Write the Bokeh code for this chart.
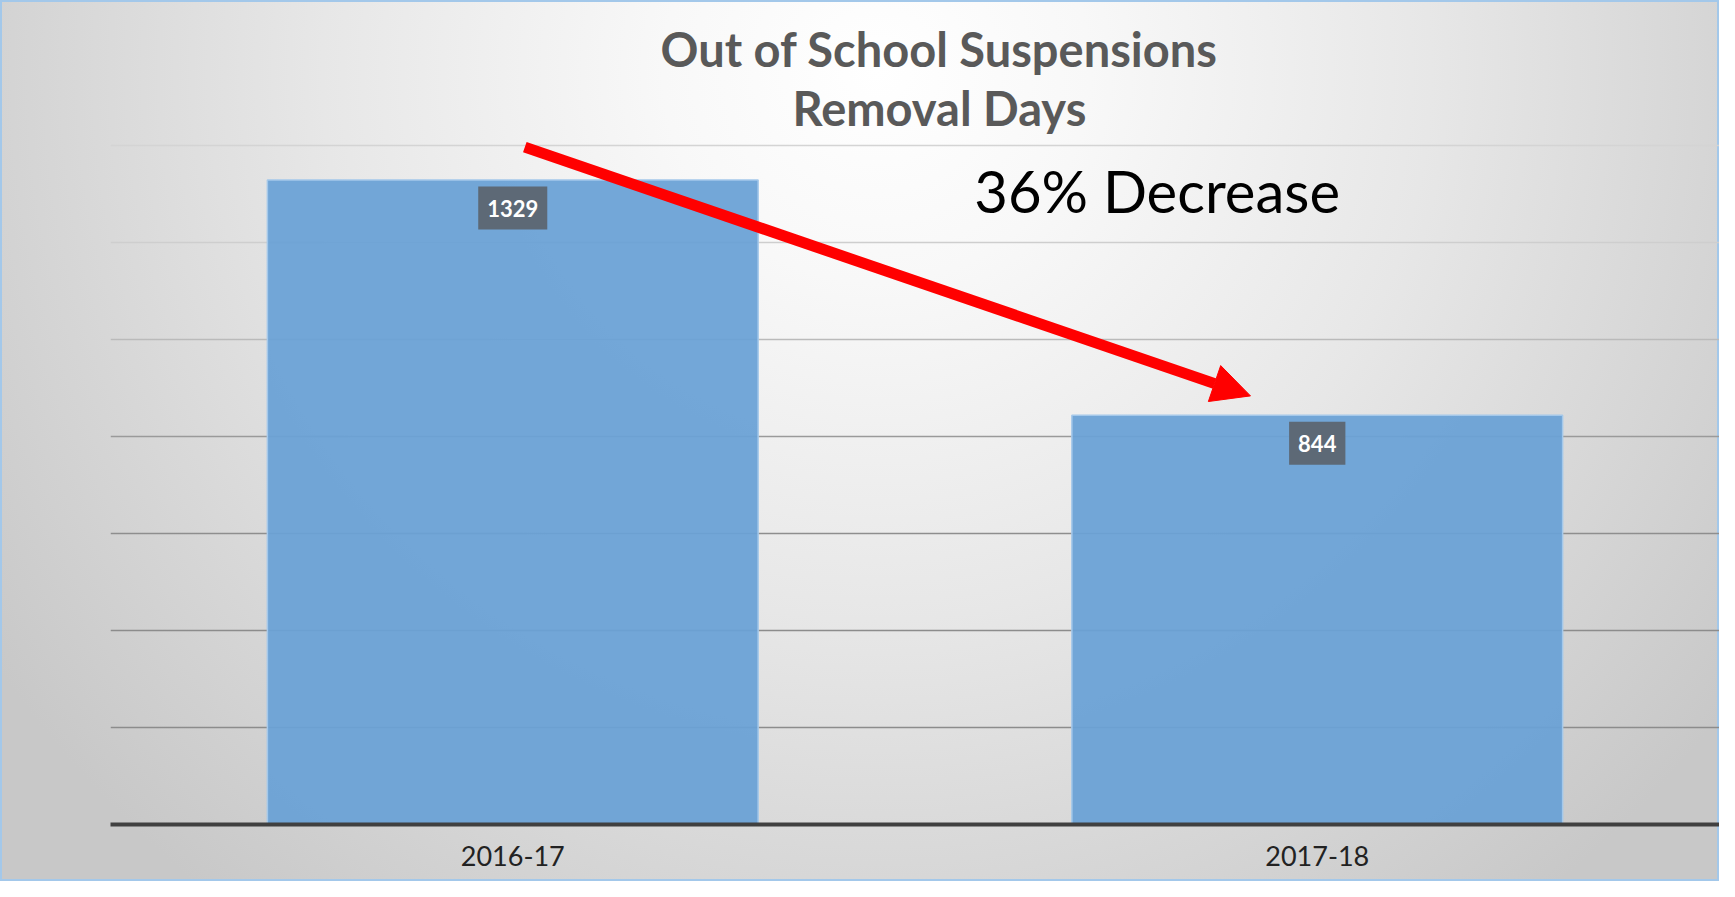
from bokeh.plotting import figure
from bokeh.models import (FactorRange, Range1d, Title, Label, Arrow, NormalHead,
                          Grid, FixedTicker, ColumnDataSource)
from bokeh.core.properties import value
from bokeh.embed import file_html
from bokeh.resources import INLINE

# ---- data ----
categories = ["2016-17", "2017-18"]
removal_days = [1329, 844]
value_labels = ["1329", "844"]
grid_values = [200, 400, 600, 800, 1000, 1200, 1400]
title_line1 = "Out of School Suspensions"
title_line2 = "Removal Days"
annotation_text = "36% Decrease"

FONT = "Lato"

src = ColumnDataSource(dict(cat=categories, days=removal_days, lab=value_labels))

p = figure(x_range=FactorRange(*categories), y_range=Range1d(0, 1421),
           width=1719, height=881, output_backend="svg", toolbar_location=None,
           title=None, min_border_left=110, min_border_right=0,
           min_border_top=135, min_border_bottom=57)

p.styles = {
    "background": "radial-gradient(ellipse 62% 120% at 51% 8%, #ffffff 0%, #f8f8f8 20%, "
                  "#e7e7e7 52%, #d6d6d6 78%, #c8c8c8 100%)",
    "box-shadow": "inset 0 0 0 2px #a3c8ea",
}
p.background_fill_color = None
p.border_fill_color = None
p.outline_line_color = None

# grids: lighter near top, darker lower down
p.xgrid.visible = False
p.ygrid.visible = False
grid_colors = ["#8c8c8c", "#8c8c8c", "#8e8e8e", "#9a9a9a", "#bababa", "#cecece", "#d4d4d4"]
for gv, gc in zip(grid_values, grid_colors):
    p.add_layout(Grid(dimension=1, ticker=FixedTicker(ticks=[gv]),
                      grid_line_color=gc, grid_line_width=1.3))

p.yaxis.visible = False

p.vbar(x="cat", top="days", width=0.61, source=src,
       fill_color="#6aa2d6", fill_alpha=0.94,
       line_color="#a4c8ea", line_width=1.5)

# value labels in dark boxes
p.text(x="cat", y="days", text="lab", source=src,
       text_font=value(FONT), text_font_style="bold", text_font_size="22px",
       text_color="white", text_align="center", text_baseline="middle",
       y_offset=28,
       background_fill_color="#5d6976", padding=(9, 13))

# x axis
xa = p.xaxis[0]
xa.axis_line_color = "#404040"
xa.axis_line_width = 4
xa.major_tick_line_color = None
xa.minor_tick_line_color = None
xa.major_tick_out = 0
xa.major_tick_in = 0
xa.axis_label = None
xa.major_label_text_font = FONT
xa.major_label_text_font_size = "27px"
xa.major_label_text_color = "#222222"
xa.major_label_standoff = 21

# titles (two lines)
p.add_layout(Title(text=title_line2, text_font=FONT, text_font_style="bold",
                   text_font_size="47px", text_color="#595959",
                   align="left", offset=682, standoff=0), "above")
p.add_layout(Title(text=title_line1, text_font=FONT, text_font_style="bold",
                   text_font_size="47px", text_color="#595959",
                   align="left", offset=550, standoff=2), "above")

# annotation
p.add_layout(Label(x=1.301, y=1307, text=annotation_text, text_font=FONT,
                   text_font_size="58px", text_color="black",
                   text_align="center", text_baseline="middle"))

p.add_layout(Arrow(x_start=0.515, y_start=1397, x_end=1.417, y_end=884,
                   line_color="#ff0000", line_width=11,
                   end=NormalHead(size=38, fill_color="#ff0000", line_color="#ff0000")))

open("out.html", "w").write(file_html(p, INLINE))
